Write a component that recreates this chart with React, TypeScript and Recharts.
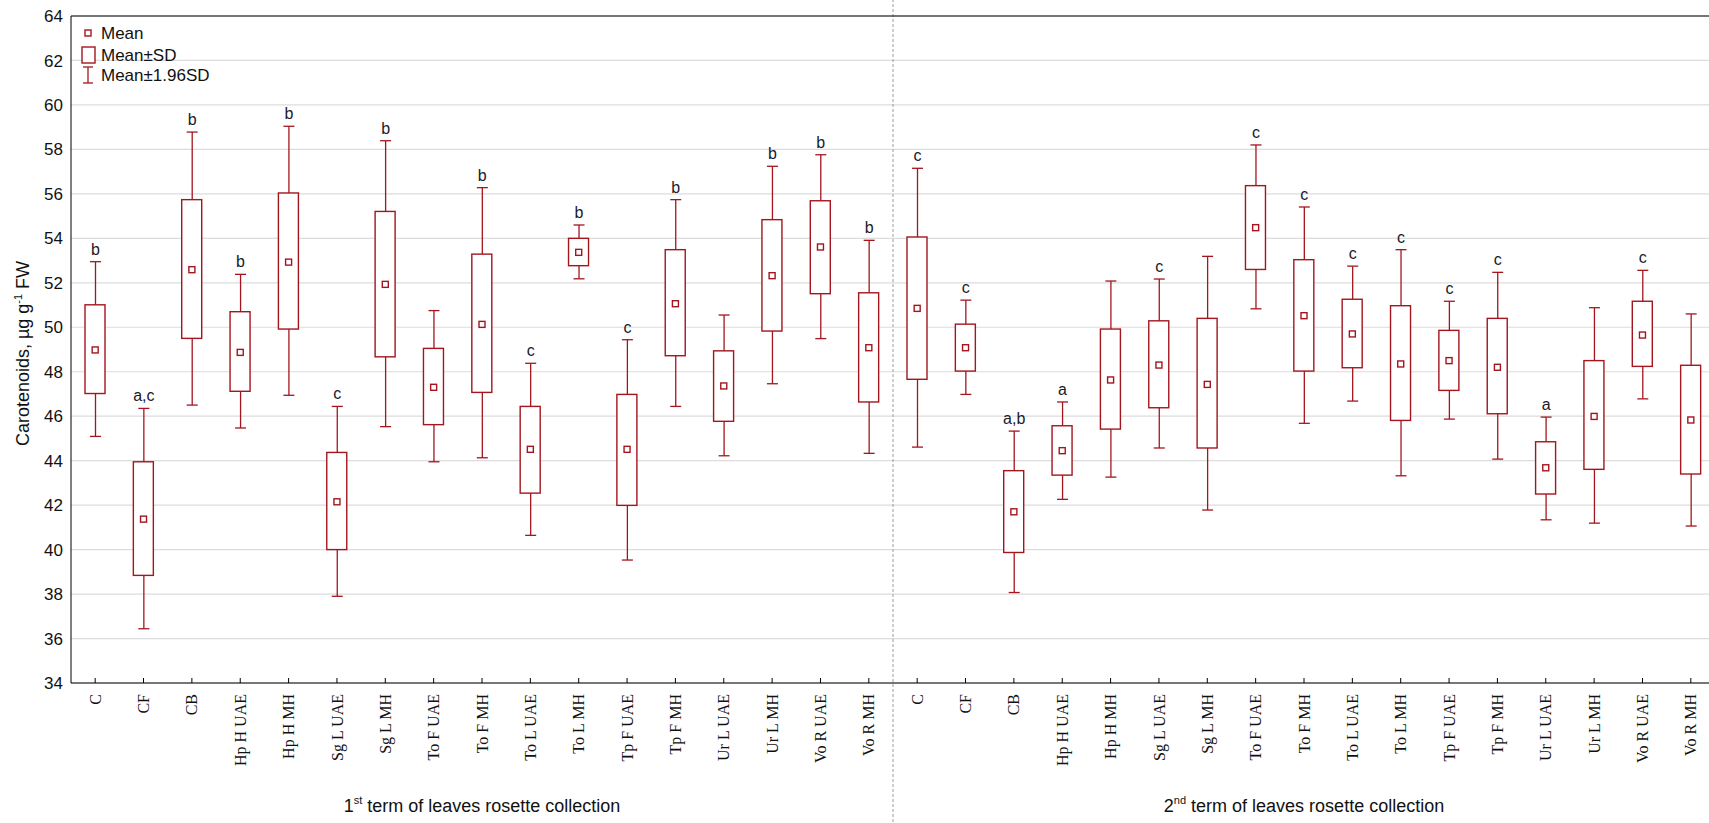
import {
  ComposedChart,
  Bar,
  Scatter,
  XAxis,
  YAxis,
  CartesianGrid,
  ReferenceLine,
  LabelList,
  Legend,
} from 'recharts';

const treatments = [
  'C', 'CF', 'CB', 'Hp H UAE', 'Hp H MH', 'Sg L UAE', 'Sg L MH', 'To F UAE', 'To F MH',
  'To L UAE', 'To L MH', 'Tp F UAE', 'Tp F MH', 'Ur L UAE', 'Ur L MH', 'Vo R UAE', 'Vo R MH',
];

const terms = [
  { ordinal: '1', suffix: 'st' },
  { ordinal: '2', suffix: 'nd' },
];

// 1st term of collection
const mean1 = [48.98, 41.37, 52.59, 48.87, 52.93, 42.15, 51.93, 47.3, 50.13, 44.51, 53.37, 44.51, 51.06, 47.36, 52.32, 53.61, 49.08];
const sdLow1 = [47.02, 38.84, 49.5, 47.12, 49.92, 40.0, 48.67, 45.62, 47.07, 42.54, 52.77, 41.99, 48.72, 45.77, 49.83, 51.51, 46.64];
const sdHigh1 = [51.01, 43.95, 55.74, 50.7, 56.04, 44.37, 55.21, 49.05, 53.29, 46.44, 54.0, 46.98, 53.49, 48.94, 54.84, 55.69, 51.55];
const ciLow1 = [45.09, 36.44, 46.5, 45.47, 46.94, 37.9, 45.53, 43.95, 44.13, 40.64, 52.18, 39.53, 46.44, 44.22, 47.46, 49.49, 44.33];
const ciHigh1 = [52.95, 46.35, 58.78, 52.38, 59.04, 46.44, 58.39, 50.75, 56.28, 48.38, 54.6, 49.44, 55.74, 50.55, 57.24, 57.76, 53.91];
const letters1 = ['b', 'a,c', 'b', 'b', 'b', 'c', 'b', '', 'b', 'c', 'b', 'c', 'b', '', 'b', 'b', 'b'];

// 2nd term of collection
const mean2 = [50.85, 49.08, 41.7, 44.45, 47.63, 48.3, 47.43, 54.48, 50.52, 49.7, 48.35, 48.5, 48.2, 43.68, 45.99, 49.65, 45.83];
const sdLow2 = [47.66, 48.03, 39.87, 43.35, 45.42, 46.38, 44.57, 52.6, 48.03, 48.18, 45.81, 47.16, 46.11, 42.5, 43.61, 48.24, 43.4];
const sdHigh2 = [54.06, 50.14, 43.55, 45.57, 49.92, 50.29, 50.4, 56.37, 53.04, 51.26, 50.97, 49.86, 50.4, 44.85, 48.5, 51.17, 48.29];
const ciLow2 = [44.61, 46.98, 38.07, 42.26, 43.26, 44.57, 41.78, 50.83, 45.68, 46.68, 43.32, 45.87, 44.07, 41.34, 41.19, 46.78, 41.06];
const ciHigh2 = [57.15, 51.22, 45.33, 46.64, 52.08, 52.17, 53.19, 58.2, 55.41, 52.75, 53.49, 51.17, 52.47, 45.96, 50.88, 52.56, 50.6];
const letters2 = ['c', 'c', 'a,b', 'a', '', 'c', '', 'c', 'c', 'c', 'c', 'c', 'c', 'a', '', 'c', ''];

const yTicks = [34, 36, 38, 40, 42, 44, 46, 48, 50, 52, 54, 56, 58, 60, 62, 64];

const RED = '#a3161e';
const SANS = "'Liberation Sans', Arial, sans-serif";
const n = treatments.length;

const buildTerm = (t: number, mean: number[], sdLow: number[], sdHigh: number[], ciLow: number[], ciHigh: number[], letters: string[]) =>
  treatments.map((name, i) => ({
    x: t * n + i,
    name,
    mean: mean[i],
    box: [sdLow[i], sdHigh[i]],
    whisker: [ciLow[i], ciHigh[i]],
    letter: letters[i],
  }));

const data = [
  ...buildTerm(0, mean1, sdLow1, sdHigh1, ciLow1, ciHigh1, letters1),
  ...buildTerm(1, mean2, sdLow2, sdHigh2, ciLow2, ciHigh2, letters2),
];

const xTicks = data.map((d) => d.x);
const groupTicks = terms.map((_, t) => t * n + (n - 1) / 2);
const separator = n - 0.5;

const WhiskerShape = (props: any) => {
  const { x, y, width, height } = props;
  const cx = x + width / 2;
  return (
    <g stroke={RED} strokeWidth={1.3}>
      <line x1={cx} x2={cx} y1={y} y2={y + height} />
      <line x1={x} x2={x + width} y1={y} y2={y} />
      <line x1={x} x2={x + width} y1={y + height} y2={y + height} />
    </g>
  );
};

const BoxShape = (props: any) => {
  const { x, y, width, height } = props;
  return <rect x={x} y={y} width={width} height={height} fill="#fff" stroke={RED} strokeWidth={1.4} />;
};

const MeanShape = (props: any) => {
  const { cx, cy } = props;
  return <rect x={cx - 3} y={cy - 3} width={6} height={6} fill="#fff" stroke={RED} strokeWidth={1.4} />;
};

const CategoryTick = (props: any) => {
  const { x, y, payload } = props;
  const label = treatments[payload.value % n];
  return (
    <text
      x={x}
      y={y}
      transform={`rotate(-90 ${x} ${y})`}
      textAnchor="end"
      dy="0.35em"
      fontFamily="'Liberation Serif', 'Times New Roman', serif"
      fontSize={16}
      fill="#111"
    >
      {label}
    </text>
  );
};

const TermTick = (props: any) => {
  const { x, y, index } = props;
  const term = terms[index];
  if (!term) return null;
  return (
    <text x={x} y={y} dy={29} textAnchor="middle" fontFamily={SANS} fontSize={18} fill="#111">
      {term.ordinal}
      <tspan fontSize={11} dy={-8}>{term.suffix}</tspan>
      <tspan dy={8}> term of leaves rosette collection</tspan>
    </text>
  );
};

const YTitle = (props: any) => {
  const { viewBox } = props;
  const cx = viewBox.x + 23;
  const cy = viewBox.y + viewBox.height / 2 + 4;
  return (
    <text
      x={cx}
      y={cy}
      transform={`rotate(-90 ${cx} ${cy})`}
      textAnchor="middle"
      dy="0.35em"
      fontFamily={SANS}
      fontSize={18}
      fill="#111"
    >
      Carotenoids, µg g<tspan fontSize={11} dy={-7}>-1</tspan>
      <tspan dy={7}> FW</tspan>
    </text>
  );
};

const SeparatorShape = (props: any) => {
  const { x1, y1, y2 } = props;
  const top = Math.min(y1, y2);
  const bottom = Math.max(y1, y2);
  return <line x1={x1} x2={x1} y1={top - 17} y2={bottom + 140} stroke="#9c9c9c" strokeWidth={1} strokeDasharray="3 2" />;
};

const LegendContent = () => (
  <svg width={170} height={68} style={{ display: 'block' }}>
    <g fontFamily={SANS} fontSize={17} fill="#111">
      <rect x={9} y={8} width={6} height={6} fill="#fff" stroke={RED} strokeWidth={1.4} />
      <text x={25} y={17}>Mean</text>
      <rect x={6} y={25} width={13} height={16} fill="#fff" stroke={RED} strokeWidth={1.4} />
      <text x={25} y={39}>Mean±SD</text>
      <g stroke={RED} strokeWidth={1.3}>
        <line x1={12} x2={12} y1={45} y2={61} />
        <line x1={7} x2={17} y1={45} y2={45} />
        <line x1={7} x2={17} y1={61} y2={61} />
      </g>
      <text x={25} y={59}>Mean±1.96SD</text>
    </g>
  </svg>
);

export default function App() {
  return (
    <div style={{ position: 'absolute', left: 0, top: 0, width: 1709, height: 823, overflow: 'hidden', background: '#fff' }}>
      <ComposedChart
        width={1730}
        height={823}
        data={data}
        margin={{ top: 16, right: 15, bottom: 0, left: 0 }}
      >
        <CartesianGrid horizontal vertical={false} stroke="#dcdcdc" strokeWidth={1.2} />
        <XAxis
          xAxisId="top"
          orientation="top"
          dataKey="x"
          type="number"
          domain={[-0.5, 2 * n - 0.5]}
          ticks={xTicks}
          interval={0}
          allowDataOverflow
          height={1}
          mirror
          tick={false}
          tickSize={4}
          stroke="#000"
        />
        <XAxis
          xAxisId="box"
          dataKey="x"
          type="number"
          domain={[-0.5, 2 * n - 0.5]}
          ticks={xTicks}
          interval={0}
          allowDataOverflow
          height={100}
          stroke="#000"
          tickSize={-5}
          tickMargin={16}
          tick={<CategoryTick />}
        />
        <XAxis
          xAxisId="group"
          dataKey="x"
          type="number"
          domain={[-0.5, 2 * n - 0.5]}
          ticks={groupTicks}
          allowDataOverflow
          height={40}
          axisLine={false}
          tickLine={false}
          tickSize={0}
          tickMargin={0}
          tick={<TermTick />}
        />
        <XAxis xAxisId="whisk" dataKey="x" type="number" domain={[-0.5, 2 * n - 0.5]} allowDataOverflow hide />
        <YAxis
          domain={[34, 64]}
          ticks={yTicks}
          interval={0}
          width={71}
          stroke="#000"
          tickLine={false}
          tickSize={0}
          tickMargin={8}
          tick={{ fill: '#111', fontSize: 17, fontFamily: SANS }}
          label={<YTitle />}
        />
        <ReferenceLine xAxisId="box" x={separator} shape={<SeparatorShape />} />
        <Legend
          layout="horizontal"
          verticalAlign="middle"
          align="center"
          wrapperStyle={{ top: 22, left: 76, width: 170, height: 68 }}
          content={<LegendContent />}
        />
        <Bar xAxisId="whisk" dataKey="whisker" barSize={11} shape={<WhiskerShape />} isAnimationActive={false}>
          <LabelList
            dataKey="letter"
            position="top"
            offset={7}
            fill="#1a1a2a"
            fontSize={16}
            fontFamily={SANS}
          />
        </Bar>
        <Bar xAxisId="box" dataKey="box" barSize={20} shape={<BoxShape />} isAnimationActive={false} />
        <Scatter xAxisId="box" dataKey="mean" shape={<MeanShape />} isAnimationActive={false} />
      </ComposedChart>
    </div>
  );
}
